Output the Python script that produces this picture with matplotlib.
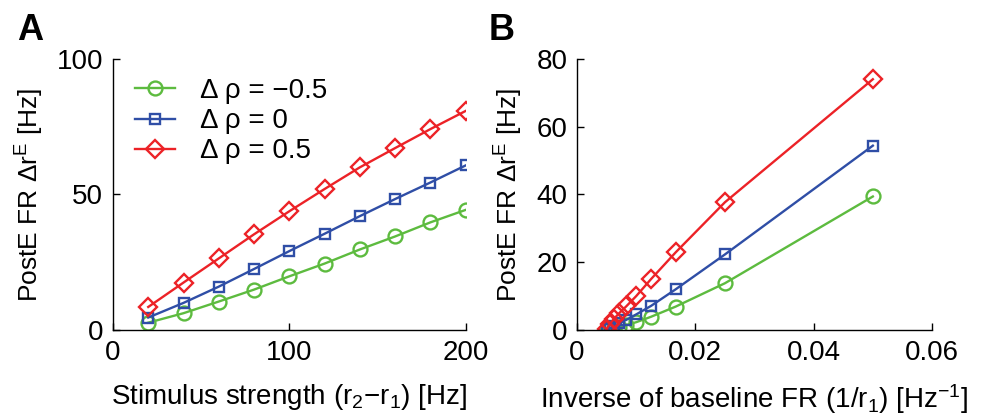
import matplotlib
matplotlib.use('Agg')
import matplotlib.pyplot as plt

plt.rcParams['font.family'] = ['Liberation Sans', 'DejaVu Sans']
plt.rcParams['mathtext.default'] = 'regular'

# panel A: stimulus strength r2-r1 [Hz]
stim = [20, 40, 60, 80, 100, 120, 140, 160, 180, 200]
a_neg = [2.7, 6.2, 10.5, 14.9, 19.8, 24.5, 29.7, 34.5, 39.7, 44.3]
a_zero = [4.6, 10.0, 16.0, 22.5, 29.1, 35.5, 42.0, 48.3, 54.4, 60.7]
a_pos = [8.5, 17.5, 26.4, 35.3, 43.8, 52.0, 60.0, 67.1, 74.1, 80.8]

# panel B: inverse of baseline rate 1/r1
r1 = [20, 40, 60, 80, 100, 120, 140, 160, 180, 200]
inv_r1 = [1.0 / r for r in r1]
b_neg = [39.4, 13.8, 6.9, 3.9, 2.3, 1.5, 0.9, 0.5, 0.2, 0.0]
b_zero = [54.4, 22.3, 12.0, 7.1, 4.6, 3.0, 2.0, 1.2, 0.6, 0.2]
b_pos = [74.0, 37.7, 22.9, 15.0, 10.0, 7.0, 5.0, 3.3, 1.8, 0.3]

labels = ['Δ ρ = −0.5', 'Δ ρ = 0', 'Δ ρ = 0.5']
colors = ['#5dbb3f', '#2f4ea6', '#ec2227']
markers = ['o', 's', 'D']
msizes = [10, 7, 9]

fig = plt.figure(figsize=(9.85, 4.19), dpi=100)
axA = fig.add_axes([0.1147, 0.2124, 0.358, 0.647])
axB = fig.add_axes([0.5858, 0.2124, 0.3604, 0.647])


def style(ax):
    for s in ['top', 'right']:
        ax.spines[s].set_visible(False)
    ax.tick_params(direction='in', length=5, width=1, labelsize=20, pad=7)
    ax.spines['left'].set_linewidth(1)
    ax.spines['bottom'].set_linewidth(1)


for ys, lab, c, m, ms in zip([a_neg, a_zero, a_pos], labels, colors, markers, msizes):
    axA.plot(stim, ys, color=c, marker=m, ms=ms, mfc='none', mew=1.7, lw=1.7, label=lab)
axA.set_xlim(0, 200)
axA.set_ylim(0, 100)
axA.set_xticks([0, 100, 200])
axA.set_yticks([0, 50, 100])
style(axA)
axA.set_xlabel('Stimulus strength (r$_2$−r$_1$) [Hz]', fontsize=20, labelpad=12)
axA.set_ylabel('PostE FR Δr$^E$ [Hz]', fontsize=19, labelpad=8)
axA.legend(loc='upper left', frameon=False, fontsize=20, handlelength=1.45,
           handletextpad=0.9, labelspacing=0.15, borderaxespad=0.0,
           bbox_to_anchor=(0.03, 0.97))

for ys, c, m, ms in zip([b_neg, b_zero, b_pos], colors, markers, msizes):
    axB.plot(inv_r1, ys, color=c, marker=m, ms=ms, mfc='none', mew=1.7, lw=1.7)
axB.set_xlim(0, 0.06)
axB.set_ylim(0, 80)
axB.set_xticks([0, 0.02, 0.04, 0.06])
axB.set_xticklabels(['0', '0.02', '0.04', '0.06'])
axB.set_yticks([0, 20, 40, 60, 80])
style(axB)
axB.set_xlabel('Inverse of baseline FR (1/r$_1$) [Hz$^{-1}$]', fontsize=20, labelpad=12)
axB.set_ylabel('PostE FR Δr$^E$ [Hz]', fontsize=19, labelpad=8)

fig.text(0.017, 0.905, 'A', fontsize=26, fontweight='bold')
fig.text(0.496, 0.905, 'B', fontsize=26, fontweight='bold')

fig.savefig('out.png', dpi=100)
